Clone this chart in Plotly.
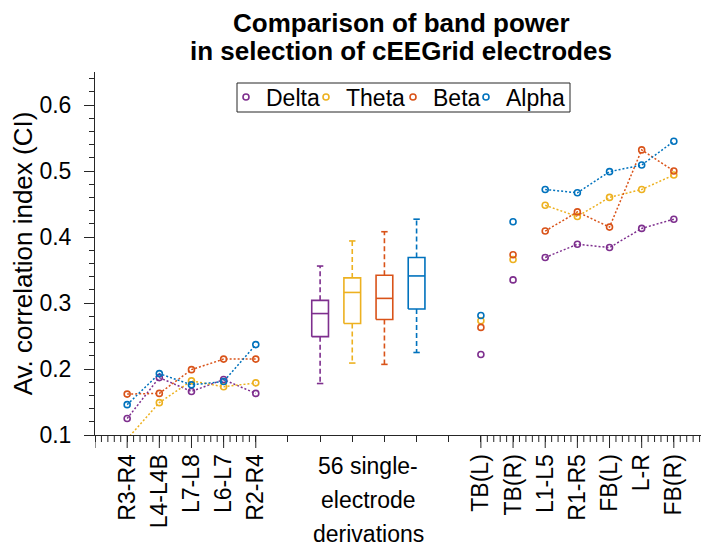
import plotly.graph_objects as go

# ---------------- data ----------------
tick_labels = ["", "R3-R4", "L4-L4B", "L7-L8", "L6-L7", "R2-R4",
               "", "", "", "", "", "",
               "TB(L)", "TB(R)", "L1-L5", "R1-R5", "FB(L)", "L-R", "FB(R)", ""]

bands = ["Delta", "Theta", "Beta", "Alpha"]
colors = ["#7E2F8E", "#EDB120", "#D95319", "#0072BD"]

left_labels = ["R3-R4", "L4-L4B", "L7-L8", "L6-L7", "R2-R4"]
delta_left = [0.125, 0.187, 0.166, 0.184, 0.163]
theta_left = [0.094, 0.149, 0.182, 0.173, 0.179]
beta_left = [0.162, 0.163, 0.199, 0.215, 0.215]
alpha_left = [0.146, 0.193, 0.176, 0.181, 0.237]

tb_labels = ["TB(L)", "TB(R)"]
delta_tb = [0.222, 0.335]
theta_tb = [0.273, 0.366]
beta_tb = [0.263, 0.373]
alpha_tb = [0.281, 0.423]

right_labels = ["L1-L5", "R1-R5", "FB(L)", "L-R", "FB(R)"]
delta_right = [0.369, 0.389, 0.384, 0.413, 0.427]
theta_right = [0.448, 0.431, 0.460, 0.472, 0.494]
beta_right = [0.409, 0.438, 0.415, 0.532, 0.500]
alpha_right = [0.472, 0.467, 0.499, 0.509, 0.545]

box_positions = [7, 8, 9, 10]
box_low = [0.178, 0.209, 0.207, 0.225]
box_q1 = [0.249, 0.269, 0.275, 0.291]
box_med = [0.284, 0.316, 0.307, 0.341]
box_q3 = [0.304, 0.338, 0.342, 0.369]
box_high = [0.356, 0.394, 0.408, 0.427]

middle_label_lines = ["56 single-", "electrode", "derivations"]
middle_label_pos = 8.5

title_lines = ["Comparison of band power", "in selection of cEEGrid electrodes"]

left_series = [delta_left, theta_left, beta_left, alpha_left]
tb_series = [delta_tb, theta_tb, beta_tb, alpha_tb]
right_series = [delta_right, theta_right, beta_right, alpha_right]

# ---------------- layout geometry ----------------
FONT = "Liberation Sans, Arial, sans-serif"
AXC = "#262626"
TICK_FS = 23
LABEL_FS = 26
OFF = 8                      # page body margin of the browser
W, H = 709 - OFF, 552 - OFF
ML, MT = 95 - OFF, 72 - OFF
MR = W - (706 - OFF)
MB = H - (435 - OFF)
plot_h = H - MT - MB
plot_w = W - ML - MR


def py_paper(py_abs):
    return ((H - MB) - (py_abs - OFF)) / plot_h


def px_paper(px_abs):
    return ((px_abs - OFF) - ML) / plot_w


pos = {lab: i for i, lab in enumerate(tick_labels) if lab}
xl = [pos[l] for l in left_labels]
xt = [pos[l] for l in tb_labels]
xr = [pos[l] for l in right_labels]

DOT = "2px,2px"
fig = go.Figure()


def marker_style(c):
    return dict(symbol="circle-open", size=6, color=c, line=dict(width=1.6, color=c))


for b, c, ys in zip(bands, colors, left_series):
    fig.add_trace(go.Scatter(x=xl, y=ys, mode="lines+markers", line=dict(color=c, width=1.5, dash=DOT),
                             marker=marker_style(c), showlegend=False))

# boxes
half_w, cap_w = 0.26, 0.1
for i, (p, c) in enumerate(zip(box_positions, colors)):
    lo, q1, md, q3, hi = box_low[i], box_q1[i], box_med[i], box_q3[i], box_high[i]
    fig.add_trace(go.Scatter(x=[p - half_w, p + half_w, p + half_w, p - half_w, p - half_w],
                             y=[q1, q1, q3, q3, q1], mode="lines", line=dict(color=c, width=1.6),
                             showlegend=False, hoverinfo="skip"))
    fig.add_trace(go.Scatter(x=[p - half_w, p + half_w], y=[md, md], mode="lines",
                             line=dict(color=c, width=1.6), showlegend=False, hoverinfo="skip"))
    fig.add_trace(go.Scatter(x=[p, p, None, p, p], y=[q3, hi, None, q1, lo], mode="lines",
                             line=dict(color=c, width=1.6, dash="5px,3px"), showlegend=False, hoverinfo="skip"))
    fig.add_trace(go.Scatter(x=[p - cap_w, p + cap_w, None, p - cap_w, p + cap_w], y=[hi, hi, None, lo, lo],
                             mode="lines", line=dict(color=c, width=1.6), showlegend=False, hoverinfo="skip"))

legend_names = ["legend", "legend2", "legend3", "legend4"]
for b, c, ys, lg in zip(bands, colors, tb_series, legend_names):
    fig.add_trace(go.Scatter(x=xt, y=ys, mode="markers", marker=marker_style(c), name=b,
                             showlegend=True, legend=lg))

for b, c, ys in zip(bands, colors, right_series):
    fig.add_trace(go.Scatter(x=xr, y=ys, mode="lines+markers", line=dict(color=c, width=1.5, dash=DOT),
                             marker=marker_style(c), showlegend=False))

# group tick marks (major + minor) on the x axis
shapes = []
groups = [(0, 5), (12, 19)]
for a, bnd in groups:
    for i in range(a, bnd + 1):
        shapes.append(dict(type="line", xref="x", yref="paper", x0=i, x1=i, y0=0, y1=-13 / plot_h,
                           line=dict(color=AXC, width=1)))
        if i < bnd:
            for k in range(1, 5):
                shapes.append(dict(type="line", xref="x", yref="paper", x0=i + k / 5, x1=i + k / 5,
                                   y0=0, y1=-7 / plot_h, line=dict(color=AXC, width=1)))

# legend frame
shapes.append(dict(type="rect", xref="paper", yref="paper",
                   x0=px_paper(237), x1=px_paper(570),
                   y0=py_paper(112), y1=py_paper(83),
                   line=dict(color=AXC, width=1), fillcolor="white", layer="below"))

annotations = []
for j, line in enumerate(middle_label_lines):
    annotations.append(dict(x=middle_label_pos, xref="x", y=py_paper(466 + 34 * j), yref="paper",
                            text=line, showarrow=False, yanchor="middle", xanchor="center",
                            font=dict(family=FONT, size=TICK_FS, color="#000000")))
for j, line in enumerate(title_lines):
    annotations.append(dict(x=px_paper(401), xref="paper", y=py_paper(23 + 27.5 * j), yref="paper",
                            text="<b>" + line + "</b>", showarrow=False, yanchor="middle", xanchor="center",
                            font=dict(family=FONT, size=LABEL_FS, color="#000000")))

# separate legends so each entry sits where the reference shows it
legend_marker_abs = [249, 329, 416, 489]
legend_layout = {}
for lg, mx in zip(legend_names, legend_marker_abs):
    legend_layout[lg] = dict(orientation="h", x=px_paper(mx - 4 - 19), xanchor="left",
                             y=py_paper(97), yanchor="middle",
                             borderwidth=0, bgcolor="rgba(0,0,0,0)",
                             font=dict(family=FONT, size=TICK_FS, color="#000000"),
                             itemwidth=30)

fig.update_layout(
    width=W, height=H,
    margin=dict(l=ML, r=MR, t=MT, b=MB, autoexpand=False),
    paper_bgcolor="white", plot_bgcolor="white",
    font=dict(family=FONT, size=TICK_FS, color="#000000"),
    showlegend=True,
    shapes=shapes,
    annotations=annotations,
    **legend_layout,
)

fig.update_xaxes(range=[0, 19], tickmode="array", tickvals=list(range(len(tick_labels))), ticktext=tick_labels,
                 tickangle=-90, ticks="outside", ticklen=6, tickcolor=AXC, tickwidth=1,
                 showline=True, linecolor=AXC, linewidth=1, showgrid=False, zeroline=False, automargin=False,
                 tickfont=dict(family=FONT, size=TICK_FS, color="#000000"), ticklabelstandoff=3)
fig.update_yaxes(range=[0.1, 0.65], tickvals=[0.1, 0.2, 0.3, 0.4, 0.5, 0.6],
                 ticktext=["0.1", "0.2", "0.3", "0.4", "0.5", "0.6"],
                 ticks="outside", ticklen=10, tickcolor=AXC, tickwidth=1,
                 minor=dict(dtick=0.02, tick0=0.1, ticks="outside", ticklen=5, tickcolor=AXC, showgrid=False),
                 showline=True, linecolor=AXC, linewidth=1, showgrid=False, zeroline=False, automargin=False,
                 tickfont=dict(family=FONT, size=TICK_FS, color="#000000"), ticklabelstandoff=8,
                 title=dict(text="Av. correlation index (CI)", font=dict(family=FONT, size=LABEL_FS, color="#000000"),
                            standoff=13))

fig.write_html("out.html")
